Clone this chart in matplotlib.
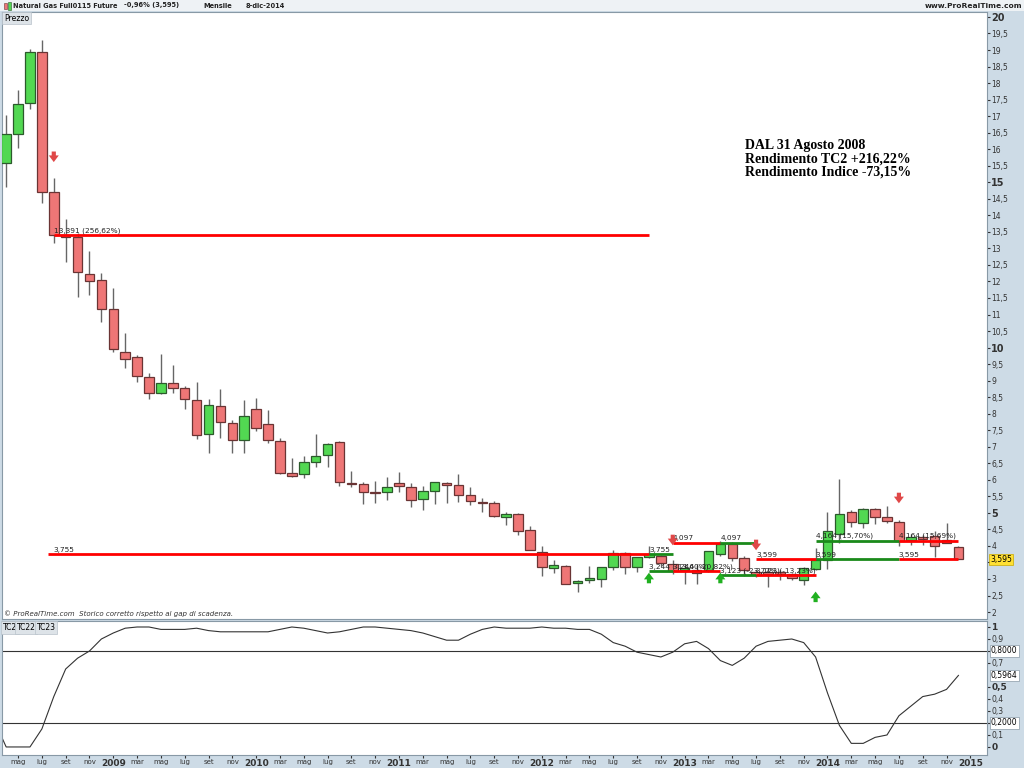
import numpy as np
import matplotlib
matplotlib.use("Agg")
import matplotlib.pyplot as plt
from matplotlib.patches import Rectangle

# monthly candles, Apr 2008 .. Dec 2014 (index 0 = Apr 2008)
opens = [15.58, 16.46, 17.40, 18.94, 14.71, 13.41, 13.35, 12.23, 12.04,
         11.17, 9.87, 9.72, 9.11, 8.63, 8.93, 8.78, 8.42, 7.39, 8.23, 7.72, 7.21,
         8.14, 7.69, 7.18, 6.21, 6.18, 6.54, 6.75, 7.14, 5.90, 5.87, 5.61, 5.63,
         5.90, 5.78, 5.42, 5.66, 5.90, 5.84, 5.54, 5.33, 5.30, 4.88, 4.97, 4.48,
         3.82, 3.33, 3.39, 2.88, 2.97, 3.00, 3.36, 3.79, 3.36, 3.67, 3.70, 3.45,
         3.27, 3.27, 3.27, 3.76, 4.06, 3.64, 3.21, 3.20, 3.21, 3.15, 2.97, 3.30,
         3.57, 4.36, 5.03, 4.70, 5.12, 4.88, 4.73, 4.18, 4.27, 4.30, 4.18, 3.98]
highs = [17.04, 17.79, 19.03, 19.30, 15.13, 13.89, 13.47, 12.92, 12.26,
         11.80, 10.44, 9.78, 9.23, 9.81, 9.47, 8.84, 8.96, 8.45, 8.75, 7.81, 8.42,
         8.48, 8.11, 7.27, 6.66, 6.72, 7.39, 7.11, 7.17, 6.27, 5.93, 5.96, 6.09,
         6.24, 5.90, 5.81, 5.93, 5.92, 6.18, 5.78, 5.45, 5.36, 5.03, 4.99, 4.60,
         4.00, 3.58, 3.42, 2.97, 3.39, 3.36, 3.88, 3.82, 3.67, 4.00, 3.73, 3.58,
         3.45, 3.42, 3.85, 4.15, 4.12, 3.70, 3.27, 3.33, 3.27, 3.18, 3.36, 3.94,
         5.03, 6.03, 5.09, 5.15, 5.15, 5.21, 4.79, 4.36, 4.33, 4.45, 4.70, 4.00]
lows = [14.86, 16.04, 17.22, 14.37, 13.16, 12.59, 11.53, 11.59, 10.77,
        9.87, 9.38, 8.96, 8.45, 8.60, 8.63, 8.14, 7.24, 6.81, 7.27, 6.81, 6.81,
        7.48, 7.11, 6.18, 6.09, 6.06, 6.39, 6.39, 5.81, 5.78, 5.27, 5.30, 5.39,
        5.63, 5.18, 5.09, 5.27, 5.30, 5.33, 5.24, 5.03, 4.88, 4.63, 4.33, 3.88,
        3.09, 3.18, 2.85, 2.61, 2.88, 2.76, 3.27, 3.15, 3.21, 3.65, 3.40, 3.15,
        2.85, 2.85, 3.21, 3.70, 3.55, 3.09, 3.05, 2.76, 2.97, 2.97, 2.82, 3.27,
        3.30, 4.09, 4.57, 4.54, 4.66, 4.70, 4.00, 4.03, 4.03, 3.67, 4.09, 3.595]
closes = [16.46, 17.37, 18.94, 14.71, 13.41, 13.35, 12.29, 12.01, 11.17,
          9.96, 9.66, 9.14, 8.63, 8.93, 8.78, 8.45, 7.36, 8.27, 7.75, 7.21, 7.93,
          7.57, 7.21, 6.21, 6.12, 6.54, 6.72, 7.09, 5.93, 5.87, 5.63, 5.60, 5.78,
          5.81, 5.39, 5.66, 5.93, 5.84, 5.54, 5.36, 5.30, 4.91, 4.97, 4.45, 3.88,
          3.36, 3.42, 2.85, 2.94, 3.03, 3.36, 3.79, 3.36, 3.67, 3.755, 3.48, 3.24,
          3.33, 3.18, 3.85, 4.06, 3.64, 3.27, 3.12, 3.15, 3.15, 3.03, 3.33, 3.57,
          4.45, 4.97, 4.73, 5.12, 4.88, 4.76, 4.15, 4.27, 4.21, 4.00, 4.09, 3.595]

# TC2 indicator, Mar 2008 .. Dec 2014 (first point is one month before the candles)
tc2 = [0.22, 0.0, 0.0, 0.0, 0.15, 0.42, 0.65, 0.74, 0.80, 0.90,
       0.95, 0.99, 1.0, 1.0, 0.98, 0.98, 0.98, 0.99, 0.97, 0.96, 0.96, 0.96,
       0.96, 0.96, 0.98, 1.0, 0.99, 0.97, 0.95, 0.96, 0.98, 1.0, 1.0, 0.99,
       0.98, 0.97, 0.95, 0.92, 0.89, 0.89, 0.94, 0.98, 1.0, 0.99, 0.99, 0.99,
       1.0, 0.99, 0.99, 0.98, 0.98, 0.94, 0.87, 0.84, 0.79, 0.77, 0.75, 0.79,
       0.86, 0.88, 0.82, 0.72, 0.68, 0.74, 0.84, 0.88, 0.89, 0.90, 0.87, 0.75,
       0.45, 0.18, 0.03, 0.03, 0.08, 0.10, 0.26, 0.34, 0.42, 0.44, 0.48, 0.5964]

# trade segments: (start idx, end idx, price, colour)
segments = [(4, 54, 13.391, "red"), (3.5, 54, 3.755, "red"),
            (54, 56, 3.755, "green"), (54, 56, 3.244, "green"), (56, 60, 3.244, "red"),
            (56, 60, 4.097, "red"), (60, 63, 4.097, "green"),
            (60, 63, 3.123, "green"), (63, 68, 3.123, "red"),
            (63, 68, 3.599, "red"), (68, 75, 3.599, "green"), (75, 80, 3.595, "red"),
            (68, 75, 4.164, "green"), (75, 80, 4.164, "red")]
seg_labels = [(4, 13.391, "13,391 (256,62%)"), (4, 3.755, "3,755"),
              (54, 3.755, "3,755"), (54, 3.244, "3,244 (-13,60%)"),
              (56, 3.244, "3,244 (-20,82%)"), (56, 4.097, "4,097"),
              (60, 4.097, "4,097"), (60, 3.123, "3,123 (-23,72%)"),
              (63, 3.123, "3,123 (-13,23%)"), (63, 3.599, "3,599"),
              (68, 3.599, "3,599"), (68, 4.164, "4,164 (15,70%)"),
              (75, 3.595, "3,595"), (75, 4.164, "4,164 (15,69%)")]
# signal arrows: (idx, price, direction)
arrows = [(4, 15.77, "down"), (56, 4.18, "down"), (63, 4.03, "down"), (75, 5.45, "down"),
          (54, 3.03, "up"), (60, 3.03, "up"), (68, 2.46, "up")]

mesi = ["gen", "feb", "mar", "apr", "mag", "giu", "lug", "ago", "set", "ott", "nov", "dic"]

blue_bg = "#cddbe6"
GREEN = "#52d852"
RED = "#ee7676"
box = dict(boxstyle="square,pad=0.2", facecolor="#dde3e8", edgecolor="#b8c2ca", lw=0.5)

fig = plt.figure(figsize=(10.24, 7.68), dpi=100, facecolor=blue_bg)
W, H = 1024, 768
ax = fig.add_axes([2 / W, 1 - 619 / H, 985 / W, 607 / H])
ax2 = fig.add_axes([2 / W, 1 - 755 / H, 985 / W, 134 / H], sharex=ax)

# header strip
fig.patches.append(Rectangle((0, 1 - 11 / H), 1, 11 / H, transform=fig.transFigure,
                             facecolor="#eef2f5", edgecolor="none", zorder=0))
for px, t in [(13, "Natural Gas Full0115 Future"), (124, "-0,96% (3,595)"),
              (203, "Mensile"), (246, "8-dic-2014")]:
    fig.text(px / W, 1 - 5.5 / H, t, fontsize=4.8, va="center", ha="left",
             fontweight="bold", color="#222222")
fig.patches.append(Rectangle((4 / W, 1 - 9 / H), 3 / W, 6 / H, transform=fig.transFigure,
                             facecolor=RED, edgecolor="#6a3434", lw=0.4))
fig.patches.append(Rectangle((8 / W, 1 - 10 / H), 3 / W, 8 / H, transform=fig.transFigure,
                             facecolor=GREEN, edgecolor="#2c5a2c", lw=0.4))
fig.text(1022 / W, 1 - 5.5 / H, "www.ProRealTime.com", fontsize=5.4, va="center",
         ha="right", fontweight="bold", color="#222222")

x = np.arange(len(opens))
o = np.array(opens); c = np.array(closes)
up = c >= o
body_lo = np.minimum(o, c)
body_h = np.maximum(np.abs(c - o), 0.03)

ax.vlines(x, lows, highs, color="#666666", lw=1.0, zorder=2)
ax.bar(x, body_h, bottom=body_lo, width=0.8,
       color=np.where(up, GREEN, RED), edgecolor=np.where(up, "#2c5a2c", "#6a3434"),
       linewidth=0.9, zorder=3)

for s, e, p, col in segments:
    ax.hlines(p, s, e, color="#ff0000" if col == "red" else "#1a8a1a", lw=2.0, zorder=4)
for xi, p, t in seg_labels:
    ax.text(xi, p + 0.04, t, fontsize=5.3, color="#222222", ha="left", va="bottom", zorder=5)
for xi, p, d in arrows:
    col = "#e04848" if d == "down" else "#20b020"
    dy = 0.32 if d == "down" else -0.32
    ax.annotate("", xy=(xi, p - dy / 2), xytext=(xi, p + dy / 2),
                arrowprops=dict(arrowstyle="simple,head_width=0.6,head_length=0.4,tail_width=0.25",
                                color=col, lw=0, mutation_scale=12, shrinkA=0, shrinkB=0),
                zorder=5)

ax.text(0.754, 0.791, "DAL 31 Agosto 2008\nRendimento TC2 +216,22%\nRendimento Indice -73,15%",
        transform=ax.transAxes, fontsize=10, fontweight="bold", family="Liberation Serif",
        va="top", ha="left", linespacing=1.05, color="#000000")

ax.text(0.002, 0.997, "Prezzo", transform=ax.transAxes, fontsize=5.5, va="top", ha="left",
        bbox=box)
ax.text(0.002, 0.003, "\u00a9 ProRealTime.com  Storico corretto rispetto al gap di scadenza.",
        transform=ax.transAxes, fontsize=5, va="bottom", ha="left", color="#333333", style="italic")

ax.set_xlim(-0.35, 82.4)
ax.set_ylim(1.79, 20.15)
ax.yaxis.tick_right()
yt = np.arange(2, 20.01, 0.5)
ax.set_yticks(yt)
# the 3,5 label sits under the last-price box
ax.set_yticklabels(["" if v == 3.5 else ("%g" % v).replace(".", ",") for v in yt], fontsize=5.5)
for lab, v in zip(ax.get_yticklabels(), yt):
    if v % 5 == 0:
        lab.set_fontweight("bold"); lab.set_fontsize(7)
ax.tick_params(axis="y", length=2, pad=1, colors="#333333")
ax.tick_params(axis="x", bottom=False, labelbottom=False)
ax.text(1.003, 3.595, "3,595", transform=ax.get_yaxis_transform(), fontsize=5.5,
        va="center", ha="left", zorder=10,
        bbox=dict(boxstyle="square,pad=0.15", facecolor="#ffe033", edgecolor="#c8a800", lw=0.5))
for sp in ax.spines.values():
    sp.set_color("#8899a6")

# indicator
ax2.plot(np.arange(-1, len(tc2) - 1), tc2, color="#333333", lw=0.8)
ax2.axhline(0.8, color="#333333", lw=0.8)
ax2.axhline(0.2, color="#333333", lw=0.8)
ax2.set_ylim(-0.067, 1.05)
ax2.yaxis.tick_right()
yt2 = [0, 0.1, 0.2, 0.3, 0.4, 0.5, 0.7, 0.8, 0.9, 1.0]
lab2 = ["0", "0,1", "", "0,3", "0,4", "0,5", "0,7", "", "0,9", "1"]
ax2.set_yticks(yt2)
ax2.set_yticklabels(lab2, fontsize=5.5)
for lab, v in zip(ax2.get_yticklabels(), yt2):
    if v in (0, 0.5, 1.0):
        lab.set_fontweight("bold"); lab.set_fontsize(6.5)
for v, t in [(0.8, "0,8000"), (0.2, "0,2000"), (0.5964, "0,5964")]:
    ax2.text(1.004, v, t, transform=ax2.get_yaxis_transform(), fontsize=5.5, va="center",
             ha="left", bbox=dict(boxstyle="square,pad=0.15", facecolor="white",
                                  edgecolor="#8899a6", lw=0.5))
ax2.tick_params(axis="y", length=2, pad=1, colors="#333333")
for fx, t in [(0.001, "TC2"), (0.0152, "TC22"), (0.0355, "TC23")]:
    ax2.text(fx, 0.985, t, transform=ax2.transAxes, fontsize=5.5, va="top", ha="left", bbox=box)

xt = np.arange(1, 82, 2)  # May 2008 .. Jan 2015, every two months
xl = []
for i in xt:
    m = (3 + i) % 12
    y = 2008 + (3 + i) // 12
    xl.append(str(y) if m == 0 else mesi[m])
ax2.set_xticks(xt)
ax2.set_xticklabels(xl, fontsize=5)
for lab, t in zip(ax2.get_xticklabels(), xl):
    if t.isdigit():
        lab.set_fontweight("bold"); lab.set_fontsize(6.5)
ax2.tick_params(axis="x", length=2, pad=1, colors="#333333")
for sp in ax2.spines.values():
    sp.set_color("#8899a6")

fig.savefig("out.png", dpi=100, facecolor=blue_bg)
